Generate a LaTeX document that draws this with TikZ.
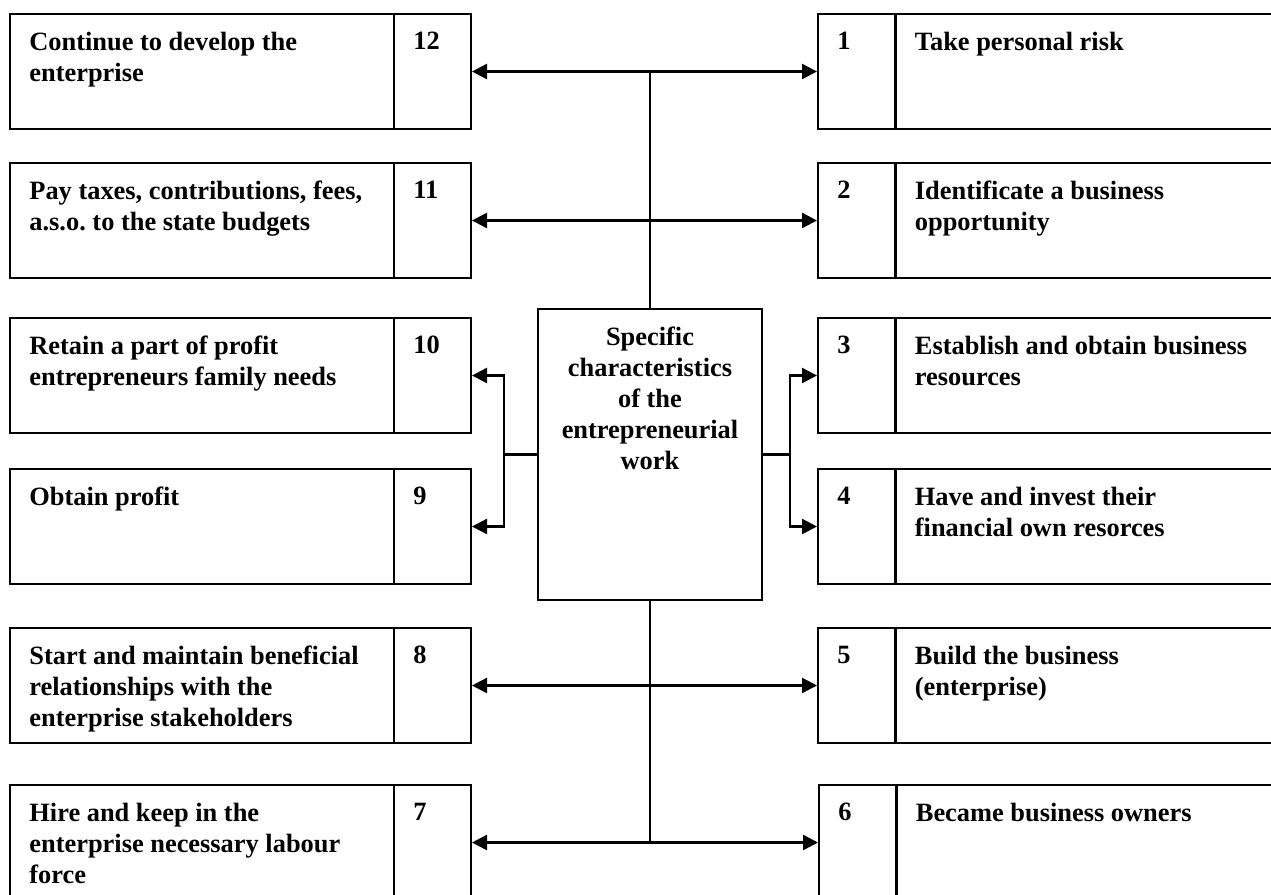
\documentclass[tikz,border=0pt]{standalone}
\usepackage{fontspec}
\setmainfont{Liberation Serif}
\usepackage{tikz}
\usetikzlibrary{positioning,arrows.meta}

\tikzset{
  cell/.style={draw, line width=1pt, anchor=north west, minimum height=57.5pt, inner sep=0pt},
  wide/.style={cell, minimum width=192pt},
  wider/.style={cell, minimum width=200pt},
  num/.style={cell, minimum width=38.5pt},
  txt/.style={font=\bfseries\fontsize{13.2}{15.4}\selectfont, align=left, inner sep=0pt},
  link/.style={line width=1.2pt},
  arr/.style={link, -{Triangle[length=7.5pt,width=7.5pt]}},
  both/.style={link, {Triangle[length=7.5pt,width=7.5pt]}-{Triangle[length=7.5pt,width=7.5pt]}}
}

\begin{document}
\begin{tikzpicture}[x=0.5pt,y=-0.5pt]
\useasboundingbox (0,0) rectangle (1271,895);
\clip (0,0) rectangle (1271,895);
% left column
\node[wide] (c12) at (9,13) {};
\node[num] (n12) at (393,13) {};
\node[wide] (c11) at (9,162) {};
\node[num] (n11) at (393,162) {};
\node[wide] (c10) at (9,317) {};
\node[num] (n10) at (393,317) {};
\node[wide] (c9) at (9,468) {};
\node[num] (n9) at (393,468) {};
\node[wide] (c8) at (9,627) {};
\node[num] (n8) at (393,627) {};
\node[wide] (c7) at (9,784) {};
\node[num] (n7) at (393,784) {};
\node[txt, below right=9.5pt and 10pt of c12.north west] (x12) {Continue to develop the\\enterprise};
\node[txt, below right=9.5pt and 10pt of n12.north west] (m12) {12};
\node[txt, below right=9.5pt and 10pt of c11.north west] (x11) {Pay taxes, contributions, fees,\\a.s.o.\ to the state budgets};
\node[txt, below right=9.5pt and 10pt of n11.north west] (m11) {11};
\node[txt, below right=9.5pt and 10pt of c10.north west] (x10) {Retain a part of profit\\entrepreneurs family needs};
\node[txt, below right=9.5pt and 10pt of n10.north west] (m10) {10};
\node[txt, below right=9.5pt and 10pt of c9.north west] (x9) {Obtain profit};
\node[txt, below right=9.5pt and 10pt of n9.north west] (m9) {9};
\node[txt, below right=9.5pt and 10pt of c8.north west] (x8) {Start and maintain beneficial\\relationships with the\\enterprise stakeholders};
\node[txt, below right=9.5pt and 10pt of n8.north west] (m8) {8};
\node[txt, below right=9.5pt and 10pt of c7.north west] (x7) {Hire and keep in the\\enterprise necessary labour\\force};
\node[txt, below right=9.5pt and 10pt of n7.north west] (m7) {7};
% right column
\node[num] (n1) at (817,13) {};
\node[wider] (c1) at (894.5,13) {};
\node[num] (n2) at (817,162) {};
\node[wider] (c2) at (894.5,162) {};
\node[num] (n3) at (817,317) {};
\node[wider] (c3) at (894.5,317) {};
\node[num] (n4) at (817,468) {};
\node[wider] (c4) at (894.5,468) {};
\node[num] (n5) at (817,627) {};
\node[wider] (c5) at (894.5,627) {};
\node[num] (n6) at (818,784) {};
\node[wider] (c6) at (895.5,784) {};
\node[txt, below right=9.5pt and 10pt of n1.north west] (m1) {1};
\node[txt, below right=9.5pt and 10pt of c1.north west] (x1) {Take personal risk};
\node[txt, below right=9.5pt and 10pt of n2.north west] (m2) {2};
\node[txt, below right=9.5pt and 10pt of c2.north west] (x2) {Identificate a business\\opportunity};
\node[txt, below right=9.5pt and 10pt of n3.north west] (m3) {3};
\node[txt, below right=9.5pt and 10pt of c3.north west] (x3) {Establish and obtain business\\resources};
\node[txt, below right=9.5pt and 10pt of n4.north west] (m4) {4};
\node[txt, below right=9.5pt and 10pt of c4.north west] (x4) {Have and invest their\\financial own resorces};
\node[txt, below right=9.5pt and 10pt of n5.north west] (m5) {5};
\node[txt, below right=9.5pt and 10pt of c5.north west] (x5) {Build the business\\(enterprise)};
\node[txt, below right=9.5pt and 10pt of n6.north west] (m6) {6};
\node[txt, below right=9.5pt and 10pt of c6.north west] (x6) {Became business owners};
% centre
\node[draw, line width=1pt, anchor=north west, minimum width=112pt, minimum height=145.5pt, inner sep=0pt] (hub) at (537,308) {};
\node[txt, align=center, below=9.5pt of hub.north] (hubtxt) {Specific\\characteristics\\of the\\entrepreneurial\\work};
% connectors
\coordinate[left=16.5pt of hub.west] (lj);
\coordinate[right=13.5pt of hub.east] (rj);
\draw[link] (hub.north) -- (hub.north |- n1.west);
\draw[link] (hub.south) -- (hub.south |- n7.east);
\draw[both] (n12.east) -- (n1.west);
\draw[both] (n11.east) -- (n2.west);
\draw[both] (n8.east) -- (n5.west);
\draw[both] (n7.east) -- (n6.west);
\draw[link] (hub.west) -- (lj);
\draw[arr] (lj) |- (n10.east);
\draw[arr] (lj) |- (n9.east);
\draw[link] (hub.east) -- (rj);
\draw[arr] (rj) |- (n3.west);
\draw[arr] (rj) |- (n4.west);
\end{tikzpicture}
\end{document}
